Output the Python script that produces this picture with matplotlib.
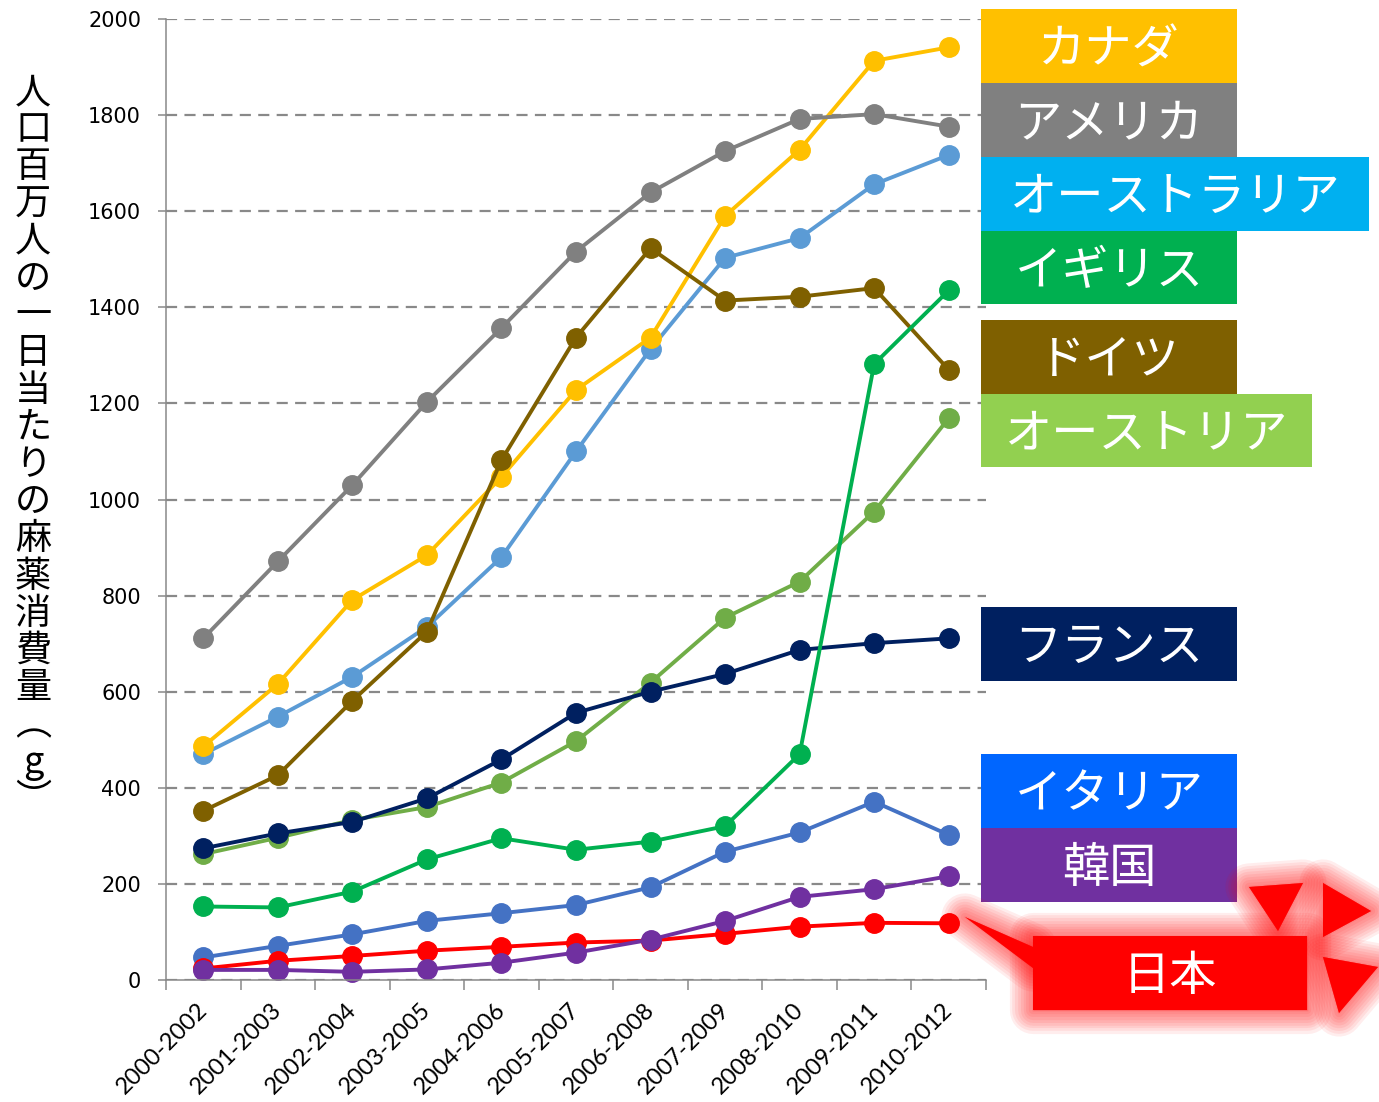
import matplotlib
matplotlib.use('Agg')
import matplotlib.pyplot as plt
import matplotlib.patheffects as pe
import matplotlib.transforms as mtransforms
from matplotlib.patches import Rectangle, Polygon

plt.rcParams['font.family'] = ['Noto Sans CJK JP', 'DejaVu Sans']

# ===============================
# Data
# ===============================
periods = ['2000-2002', '2001-2003', '2002-2004', '2003-2005', '2004-2006',
           '2005-2007', '2006-2008', '2007-2009', '2008-2010', '2009-2011',
           '2010-2012']

australia = [470, 548, 631, 735, 880, 1100, 1313, 1503, 1544, 1656, 1717]
canada = [486, 616, 791, 884, 1047, 1228, 1337, 1590, 1728, 1913, 1941]
germany = [352, 426, 581, 725, 1082, 1337, 1523, 1414, 1422, 1440, 1270]
usa = [711, 871, 1030, 1203, 1357, 1516, 1639, 1725, 1792, 1802, 1776]
austria = [262, 296, 333, 360, 411, 497, 619, 754, 829, 975, 1169]
france = [274, 305, 329, 378, 459, 556, 600, 637, 687, 701, 711]
uk = [153, 151, 184, 251, 295, 271, 288, 320, 470, 1282, 1435]
italy = [47, 71, 95, 123, 139, 156, 193, 267, 307, 371, 302]
japan = [24, 40, 50, 61, 69, 78, 82, 96, 111, 119, 118]
korea = [21, 21, 17, 22, 36, 57, 84, 123, 173, 189, 216]

series = [
    (australia, '#5B9BD5'),
    (canada, '#FFC000'),
    (germany, '#7F6000'),
    (usa, '#808080'),
    (austria, '#70AD47'),
    (france, '#002060'),
    (uk, '#00B050'),
    (italy, '#4472C4'),
    (japan, '#FF0000'),
    (korea, '#7030A0'),
]

# label boxes on the right: text, colour, top, bottom, right edge (pixels)
label_boxes = [
    ('カナダ', '#FFC000', 9, 83, 1237),
    ('アメリカ', '#808080', 83, 157, 1237),
    ('オーストラリア', '#00B0F0', 157, 231, 1369),
    ('イギリス', '#00B050', 231, 304, 1237),
    ('ドイツ', '#7F6000', 320, 394, 1237),
    ('オーストリア', '#92D050', 394, 467, 1312),
    ('フランス', '#002060', 607, 681, 1237),
    ('イタリア', '#0066FF', 754, 828, 1237),
    ('韓国', '#7030A0', 828, 902, 1237),
]

# vertical y-axis title, one glyph per cell
ylabel_chars = list('人口百万人の一日当たりの麻薬消費量') + ['︵', 'g', '︶']

# ===============================
# Figure / main axes
# ===============================
W, H = 1379, 1102
fig = plt.figure(figsize=(W / 100, H / 100), dpi=100)
ax = fig.add_axes([166 / W, 1 - 980 / H, (986 - 166) / W, (980 - 19) / H])

x = list(range(len(periods)))
for vals, col in series:
    ax.plot(x, vals, color=col, lw=2.8, marker='o', markersize=14,
            clip_on=False, solid_capstyle='round')

ax.set_xlim(-0.5, len(periods) - 0.5)
ax.set_ylim(0, 2000)
ax.set_yticks(range(0, 2001, 200))
ax.tick_params(axis='y', length=6, width=1.1, color='#898989', pad=12,
               labelsize=15)
for lab in ax.get_yticklabels():
    lab.set_fontfamily('DejaVu Sans')

ax.set_xticks(x)
ax.set_xticklabels(periods, rotation=45, ha='right', va='top',
                   rotation_mode='anchor', fontsize=17, fontfamily='Lato')
ax.tick_params(axis='x', length=0, pad=14)
shift = mtransforms.ScaledTranslation(-5 / 72, 0, fig.dpi_scale_trans)
for lab in ax.get_xticklabels():
    lab.set_transform(lab.get_transform() + shift)
ax.set_xticks([i - 0.5 for i in range(len(periods) + 1)], minor=True)
ax.tick_params(axis='x', which='minor', length=7, width=1.1, color='#898989')

ax.yaxis.grid(True, color='#898989', lw=1.6, linestyle=(0, (5, 3.3)))
ax.set_axisbelow(True)
for s in ['top', 'right']:
    ax.spines[s].set_visible(False)
for s in ['left', 'bottom']:
    ax.spines[s].set_color('#898989')
    ax.spines[s].set_linewidth(1.1)

# ===============================
# Overlay in pixel coordinates for labels
# ===============================
ov = fig.add_axes([0, 0, 1, 1], zorder=5)
ov.set_xlim(0, W)
ov.set_ylim(H, 0)
ov.axis('off')
ov.patch.set_visible(False)

for txt, col, top, bot, right in label_boxes:
    ov.add_patch(Rectangle((981, top), right - 981, bot - top,
                           facecolor=col, edgecolor='none'))
    ov.text((981 + right) / 2, (top + bot) / 2 + 4, txt, color='white',
            fontsize=34, ha='center', va='center')

# Japan label with glow and little red triangles
glow = [pe.Stroke(linewidth=w, foreground='#FF0000', alpha=0.07,
                  joinstyle='round') for w in range(34, 0, -4)] + [pe.Normal()]
japan_shapes = [
    [(1033, 936), (1307, 936), (1307, 1010), (1033, 1010)],
    [(965, 917), (1033, 947), (1033, 968)],
    [(1249, 887), (1303, 883), (1278, 931)],
    [(1323, 883), (1371, 911), (1323, 937)],
    [(1323, 957), (1378, 967), (1339, 1013)],
]
for pts in japan_shapes:
    ov.add_patch(Polygon(pts, closed=True, facecolor='#FF0000',
                         edgecolor='none', path_effects=glow))
ov.text(1170, 977, '日本', color='white', fontsize=34, ha='center',
        va='center')

for i, ch in enumerate(ylabel_chars):
    ov.text(33, 93 + i * 37.2, ch, fontsize=26, ha='center', va='center',
            color='black')

fig.savefig('out.png', dpi=100)
